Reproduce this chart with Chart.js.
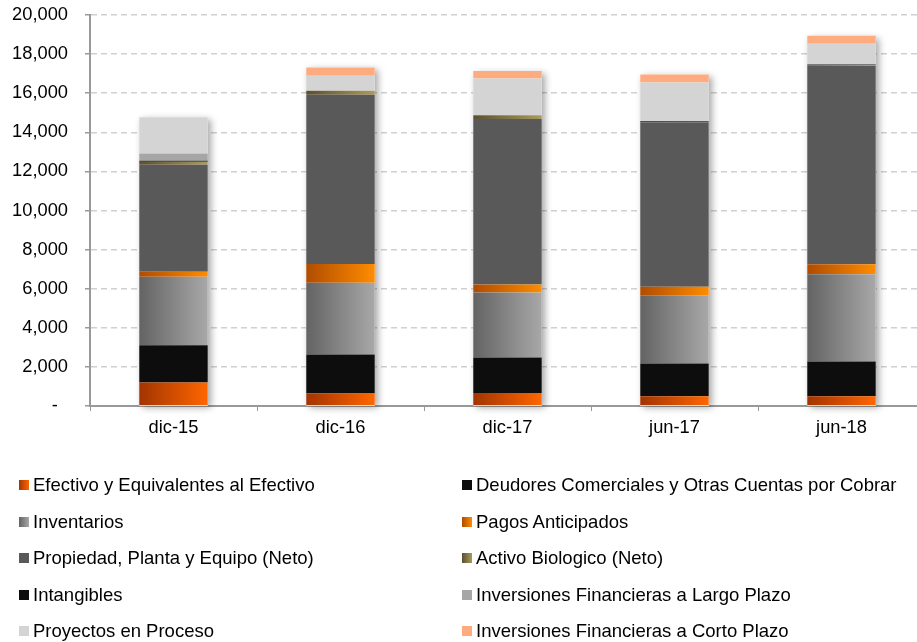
<!DOCTYPE html>
<html>
<head>
<meta charset="utf-8">
<script src="https://cdn.jsdelivr.net/npm/chart.js@4.4.1/dist/chart.umd.min.js"></script>
<style>
  html, body { margin: 0; padding: 0; background: #fff; }
  #wrap { position: relative; width: 917px; height: 642px; overflow: hidden; font-family: "Liberation Sans", Arial, sans-serif; }
  #cbox { position: absolute; left: 0; top: 0; width: 925px; height: 450px; }
  #legend { position: absolute; left: 0; top: 0; width: 917px; height: 642px; }
  .item { position: absolute; display: flex; align-items: center; font-size: 18.5px; color: #000; white-space: nowrap; line-height: 22px; }
  .sw { width: 10px; height: 10px; margin-right: 4px; flex: none; }
</style>
</head>
<body>
<div id="wrap">
  <div id="cbox"><canvas id="c"></canvas></div>
  <div id="legend"></div>
</div>
<script>
const categories = ["dic-15", "dic-16", "dic-17", "jun-17", "jun-18"];
const seriesNames = [
  "Efectivo y Equivalentes al Efectivo",
  "Deudores Comerciales y Otras Cuentas por Cobrar",
  "Inventarios",
  "Pagos Anticipados",
  "Propiedad, Planta y Equipo (Neto)",
  "Activo Biologico (Neto)",
  "Intangibles",
  "Inversiones Financieras a Largo Plazo",
  "Proyectos en Proceso",
  "Inversiones Financieras a Corto Plazo"
];
const efectivo      = [1210,  640,  670,  500,   500];
const deudores      = [1900, 2000, 1810, 1680,  1780];
const inventarios   = [3500, 3660, 3330, 3490,  4460];
const pagos         = [ 260,  970,  410,  430,   510];
const propiedad     = [5470, 8650, 8460, 8410, 10150];
const activoBio     = [ 150,  200,  190,   30,    40];
const intangibles   = [  50,    0,    0,   40,    30];
const invLargo      = [ 380,    0,    0,    0,     0];
const proyectos     = [1850,  770, 1880, 1970,  1060];
const invCorto      = [   0,  430,  390,  410,   410];
const yTicks = [0, 2000, 4000, 6000, 8000, 10000, 12000, 14000, 16000, 18000, 20000];

const seriesValues = [efectivo, deudores, inventarios, pagos, propiedad, activoBio, intangibles, invLargo, proyectos, invCorto];
// [leftColor, rightColor]
const seriesColors = [
  ["#a33400", "#ff6600"],
  ["#0d0d0d", "#0d0d0d"],
  ["#636363", "#a8a8a8"],
  ["#b04c00", "#ff8c00"],
  ["#595959", "#595959"],
  ["#5a5030", "#aa9a5c"],
  ["#0d0d0d", "#0d0d0d"],
  ["#a6a6a6", "#a6a6a6"],
  ["#d4d4d4", "#d4d4d4"],
  ["#ffab80", "#ffab80"]
];

const BAR_FRAC = 0.41;

function gradFill(idx) {
  const [c1, c2] = seriesColors[idx];
  return function(ctx) {
    const chart = ctx.chart;
    const xs = chart.scales && chart.scales.x;
    if (!chart.chartArea || !xs || c1 === c2 || ctx.dataIndex === undefined) return c2;
    const cx = xs.getPixelForValue(ctx.dataIndex);
    const w = (xs.width / categories.length) * BAR_FRAC;
    const g = chart.ctx.createLinearGradient(cx - w / 2, 0, cx + w / 2, 0);
    g.addColorStop(0, c1);
    g.addColorStop(1, c2);
    return g;
  };
}

const shadowPlugin = {
  id: 'barShadow',
  beforeDatasetsDraw(chart) {
    const ctx = chart.ctx;
    const xs = chart.scales.x, ys = chart.scales.y;
    const w = (xs.width / categories.length) * BAR_FRAC;
    ctx.save();
    ctx.shadowColor = 'rgba(0,0,0,0.35)';
    ctx.shadowBlur = 7;
    ctx.shadowOffsetX = 3;
    ctx.shadowOffsetY = 2;
    ctx.fillStyle = '#ffffff';
    categories.forEach((c, i) => {
      let total = 0;
      seriesValues.forEach(s => total += s[i]);
      const top = ys.getPixelForValue(total);
      const bot = ys.getPixelForValue(0);
      const cx = xs.getPixelForValue(i);
      ctx.fillRect(cx - w / 2, top, w, bot - top);
    });
    ctx.restore();
  }
};

const datasets = seriesNames.map((name, i) => ({
  label: name,
  data: seriesValues[i],
  backgroundColor: gradFill(i),
  borderWidth: 0,
  barPercentage: BAR_FRAC,
  categoryPercentage: 1.0
}));

const FONT = { family: "'Liberation Sans', Arial, sans-serif", size: 18.3 };

new Chart(document.getElementById('c'), {
  type: 'bar',
  data: { labels: categories, datasets },
  plugins: [shadowPlugin],
  options: {
    responsive: true,
    maintainAspectRatio: false,
    animation: false,
    layout: { padding: { top: 0, right: 0, bottom: 5, left: 0 } },
    plugins: { legend: { display: false }, tooltip: { enabled: false } },
    scales: {
      x: {
        stacked: true,
        grid: { display: true, drawOnChartArea: false, drawTicks: true, tickLength: 5, tickColor: '#999999', offset: true },
        border: { display: true, color: '#999999', width: 2 },
        ticks: { color: '#000', font: FONT, padding: 6, maxRotation: 0 }
      },
      y: {
        stacked: true,
        min: 0, max: 20000,
        afterBuildTicks(scale) { scale.ticks = yTicks.map(v => ({ value: v })); },
        afterFit(scale) { scale.width = 90; scale.paddingTop = 15; scale.paddingBottom = 0; },
        grid: { color: '#d0d0d0', lineWidth: 1.5, drawTicks: true, tickLength: 5, tickColor: '#999999', tickBorderDash: [0, 0] },
        border: { display: true, color: '#999999', width: 2, dash: [6, 4] },
        ticks: {
          color: '#000', font: FONT, padding: 17,
          callback: v => v === 0 ? '-  ' : v.toLocaleString('en-US')
        }
      }
    }
  }
});

// HTML legend, two columns, row-major
const legend = document.getElementById('legend');
seriesNames.forEach((name, i) => {
  const row = Math.floor(i / 2), col = i % 2;
  const it = document.createElement('div');
  it.className = 'item';
  it.style.left = (col === 0 ? 19 : 462) + 'px';
  it.style.top = (474 + row * 36.6) + 'px';
  const sw = document.createElement('span');
  sw.className = 'sw';
  const [c1, c2] = seriesColors[i];
  sw.style.background = 'linear-gradient(to right, ' + c1 + ', ' + c2 + ')';
  const tx = document.createElement('span');
  tx.textContent = name;
  it.appendChild(sw);
  it.appendChild(tx);
  legend.appendChild(it);
});
</script>
</body>
</html>
